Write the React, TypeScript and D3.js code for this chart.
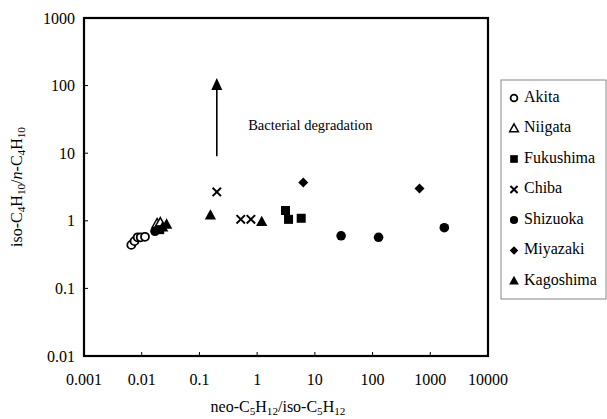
import React from "react";
import * as d3 from "d3";

const W = 607;
const H = 419;

const xTicks = [0.001, 0.01, 0.1, 1, 10, 100, 1000, 10000];
const xTickLabels = ["0.001", "0.01", "0.1", "1", "10", "100", "1000", "10000"];
const yTicks = [0.01, 0.1, 1, 10, 100, 1000];
const yTickLabels = ["0.01", "0.1", "1", "10", "100", "1000"];

// [neo/iso-C5, iso/n-C4]
const akita: [number, number][] = [
  [0.0066, 0.44],
  [0.0075, 0.5],
  [0.0085, 0.57],
  [0.0096, 0.57],
  [0.0114, 0.58],
];
const niigata: [number, number][] = [
  [0.0185, 0.9],
  [0.021, 0.93],
];
const fukushima: [number, number][] = [
  [0.0205, 0.74],
  [3.1, 1.42],
  [3.5, 1.05],
  [5.8, 1.09],
];
const chiba: [number, number][] = [
  [0.2, 2.67],
  [0.52, 1.05],
  [0.78, 1.05],
];
const shizuoka: [number, number][] = [
  [0.017, 0.7],
  [28.5, 0.6],
  [127, 0.57],
  [1750, 0.79],
];
const miyazaki: [number, number][] = [
  [6.3, 3.7],
  [650, 3.0],
];
const kagoshima: [number, number][] = [
  [0.023, 0.8],
  [0.027, 0.88],
  [0.155, 1.2],
  [1.2, 0.96],
];

const seriesNames = ["Akita", "Niigata", "Fukushima", "Chiba", "Shizuoka", "Miyazaki", "Kagoshima"];
const seriesData = [akita, niigata, fukushima, chiba, shizuoka, miyazaki, kagoshima];
const seriesShapes = ["openCircle", "openTriangle", "square", "cross", "circle", "diamond", "triangle"];

const arrowX = 0.2;
const arrowFrom = 9;
const arrowTo = 130;
const annotationText = "Bacterial degradation";
const annotationX = 0.7;
const annotationY = 25;

const FONT = "'Liberation Serif', 'Times New Roman', serif";

function Marker({ shape, x, y, s = 1 }: { shape: string; x: number; y: number; s?: number }) {
  switch (shape) {
    case "openCircle":
      return <circle cx={x} cy={y} r={4 * s} fill="white" stroke="black" strokeWidth={1.8} />;
    case "circle":
      return <circle cx={x} cy={y} r={4.8 * s} fill="black" />;
    case "openTriangle": {
      const r = 5.4 * s;
      return (
        <path
          d={`M${x},${y - r}L${x + r * 0.95},${y + r * 0.7}L${x - r * 0.95},${y + r * 0.7}Z`}
          fill="white"
          stroke="black"
          strokeWidth={1.5}
        />
      );
    }
    case "triangle": {
      const r = 6.3 * s;
      return <path d={`M${x},${y - r}L${x + r * 0.9},${y + r * 0.65}L${x - r * 0.9},${y + r * 0.65}Z`} fill="black" />;
    }
    case "square": {
      const h = 4.5 * s;
      return <rect x={x - h} y={y - h} width={2 * h} height={2 * h} fill="black" />;
    }
    case "diamond": {
      const r = 5 * s;
      return <path d={`M${x},${y - r}L${x + r},${y}L${x},${y + r}L${x - r},${y}Z`} fill="black" />;
    }
    case "cross": {
      const h = 4.2 * s;
      return (
        <path
          d={`M${x - h},${y - h}L${x + h},${y + h}M${x - h},${y + h}L${x + h},${y - h}`}
          stroke="black"
          strokeWidth={2}
        />
      );
    }
  }
  return null;
}

function Sub({ children }: { children: string }) {
  return (
    <tspan baselineShift="-25%" fontSize="70%">
      {children}
    </tspan>
  );
}

export default function App() {
  const left = 84;
  const right = 488;
  const top = 18;
  const bottom = 356;
  const x = d3.scaleLog().domain([0.001, 10000]).range([left, right]);
  const y = d3.scaleLog().domain([0.01, 1000]).range([bottom, top]);

  const legendX = 501;
  const legendTop = 80;
  const legendStep = 30.5;
  const legendFirst = 98;

  return (
    <svg
      width={W}
      height={H}
      viewBox={`0 0 ${W} ${H}`}
      style={{ position: "absolute", left: 0, top: 0, background: "white" }}
      fontFamily={FONT}
    >
      <rect x={0} y={0} width={W} height={H} fill="white" />
      {/* plot frame */}
      <rect x={left} y={top} width={right - left} height={bottom - top} fill="none" stroke="black" strokeWidth={2.2} />
      {/* ticks */}
      {xTicks.map((t) => (
        <line key={"xt" + t} x1={x(t)} x2={x(t)} y1={bottom} y2={bottom - 4} stroke="black" strokeWidth={1} />
      ))}
      {yTicks.map((t) => (
        <line key={"yt" + t} x1={left} x2={left + 4} y1={y(t)} y2={y(t)} stroke="black" strokeWidth={1} />
      ))}
      {/* tick labels */}
      {xTicks.map((t, i) => (
        <text key={"xl" + t} x={x(t)} y={bottom + 29} textAnchor="middle" fontSize={16}>
          {xTickLabels[i]}
        </text>
      ))}
      {yTicks.map((t, i) => (
        <text key={"yl" + t} x={left - 9} y={y(t) + 5.5} textAnchor="end" fontSize={16}>
          {yTickLabels[i]}
        </text>
      ))}
      {/* axis titles */}
      <text x={(left + right) / 2 - 8} y={412} textAnchor="middle" fontSize={16}>
        neo-C<Sub>5</Sub>H<Sub>12</Sub>/iso-C<Sub>5</Sub>H<Sub>12</Sub>
      </text>
      <text transform={`translate(22, ${(top + bottom) / 2}) rotate(-90)`} textAnchor="middle" fontSize={16}>
        iso-C<Sub>4</Sub>H<Sub>10</Sub>/<tspan fontStyle="italic">n</tspan>-C<Sub>4</Sub>H<Sub>10</Sub>
      </text>

      {/* arrow annotation */}
      <line x1={x(arrowX)} x2={x(arrowX)} y1={y(arrowFrom)} y2={y(arrowTo) + 10} stroke="black" strokeWidth={1.6} />
      <path
        d={`M${x(arrowX)},${y(arrowTo)}L${x(arrowX) + 5.5},${y(arrowTo) + 12}L${x(arrowX) - 5.5},${y(arrowTo) + 12}Z`}
        fill="black"
      />
      <text x={x(annotationX)} y={y(annotationY)} fontSize={14.5} dominantBaseline="middle">
        {annotationText}
      </text>

      {/* data */}
      {seriesData.map((pts, si) =>
        pts.map((p, pi) => <Marker key={si + "-" + pi} shape={seriesShapes[si]} x={x(p[0])} y={y(p[1])} />)
      )}

      {/* legend */}
      <rect
        x={legendX}
        y={legendTop}
        width={W - legendX - 1}
        height={legendFirst - legendTop + legendStep * 6 + 18}
        fill="white"
        stroke="#888"
        strokeWidth={1}
      />
      {seriesNames.map((name, i) => (
        <g key={name}>
          <Marker shape={seriesShapes[i]} x={legendX + 13} y={legendFirst + i * legendStep} s={0.85} />
          <text x={legendX + 23} y={legendFirst + i * legendStep} fontSize={16} dominantBaseline="middle">
            {name}
          </text>
        </g>
      ))}
    </svg>
  );
}
